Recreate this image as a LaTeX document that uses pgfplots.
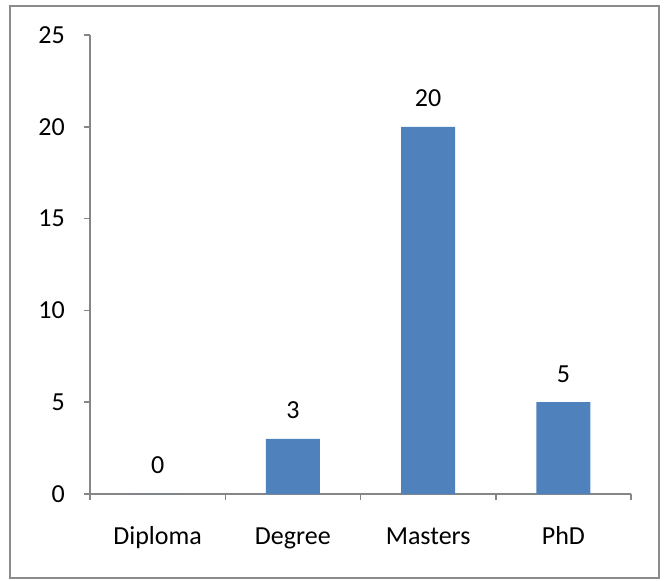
\documentclass[border=0pt]{standalone}
\usepackage{pgfplots}
\pgfplotsset{compat=1.18}
\usepackage{fontspec}
\setmainfont{Carlito}
\definecolor{barblue}{HTML}{4F81BD}
\definecolor{axisgray}{HTML}{868686}
\definecolor{framegray}{HTML}{8C8C8C}
\newcommand{\chartfont}{\fontsize{26}{31}\selectfont}
\begin{document}
\begin{tikzpicture}[x=1pt,y=1pt]
\useasboundingbox (-90,-86) rectangle (578,494);
\draw[line width=2pt, color=framegray] (-80,-84) rectangle (569,488);
\begin{axis}[
  at={(0,0)}, anchor=south west,
  scale only axis, width=541pt, height=459pt,
  xmin=-0.5, xmax=3.5, ymin=0, ymax=25,
  axis lines*=left,
  axis line style={line width=1.5pt, color=axisgray},
  tick align=outside,
  major tick length=6pt,
  tick style={line width=1.5pt, color=axisgray},
  % category separators on the x axis, names at the category centres
  xtick={-0.5,0.5,1.5,2.5,3.5},
  xticklabels={},
  extra x ticks={0,1,2,3},
  extra x tick labels={Diploma,Degree,Masters,PhD},
  extra x tick style={major tick length=0pt, tick style={draw=none}},
  ytick={0,5,10,15,20,25},
  /pgf/number format/assume math mode=true,
  ticklabel style={font=\chartfont},
  xticklabel style={anchor=base, inner sep=0pt, yshift=-50pt},
  yticklabel style={anchor=east, inner sep=0pt, xshift=-19pt},
  ybar, bar width=54pt,
  nodes near coords,
  nodes near coords style={font=\chartfont, anchor=base, inner sep=0pt, yshift=20pt, text=black},
]
\addplot[fill=barblue, draw=none] coordinates {(0,0) (1,3) (2,20) (3,5)};
\end{axis}
\end{tikzpicture}
\end{document}
